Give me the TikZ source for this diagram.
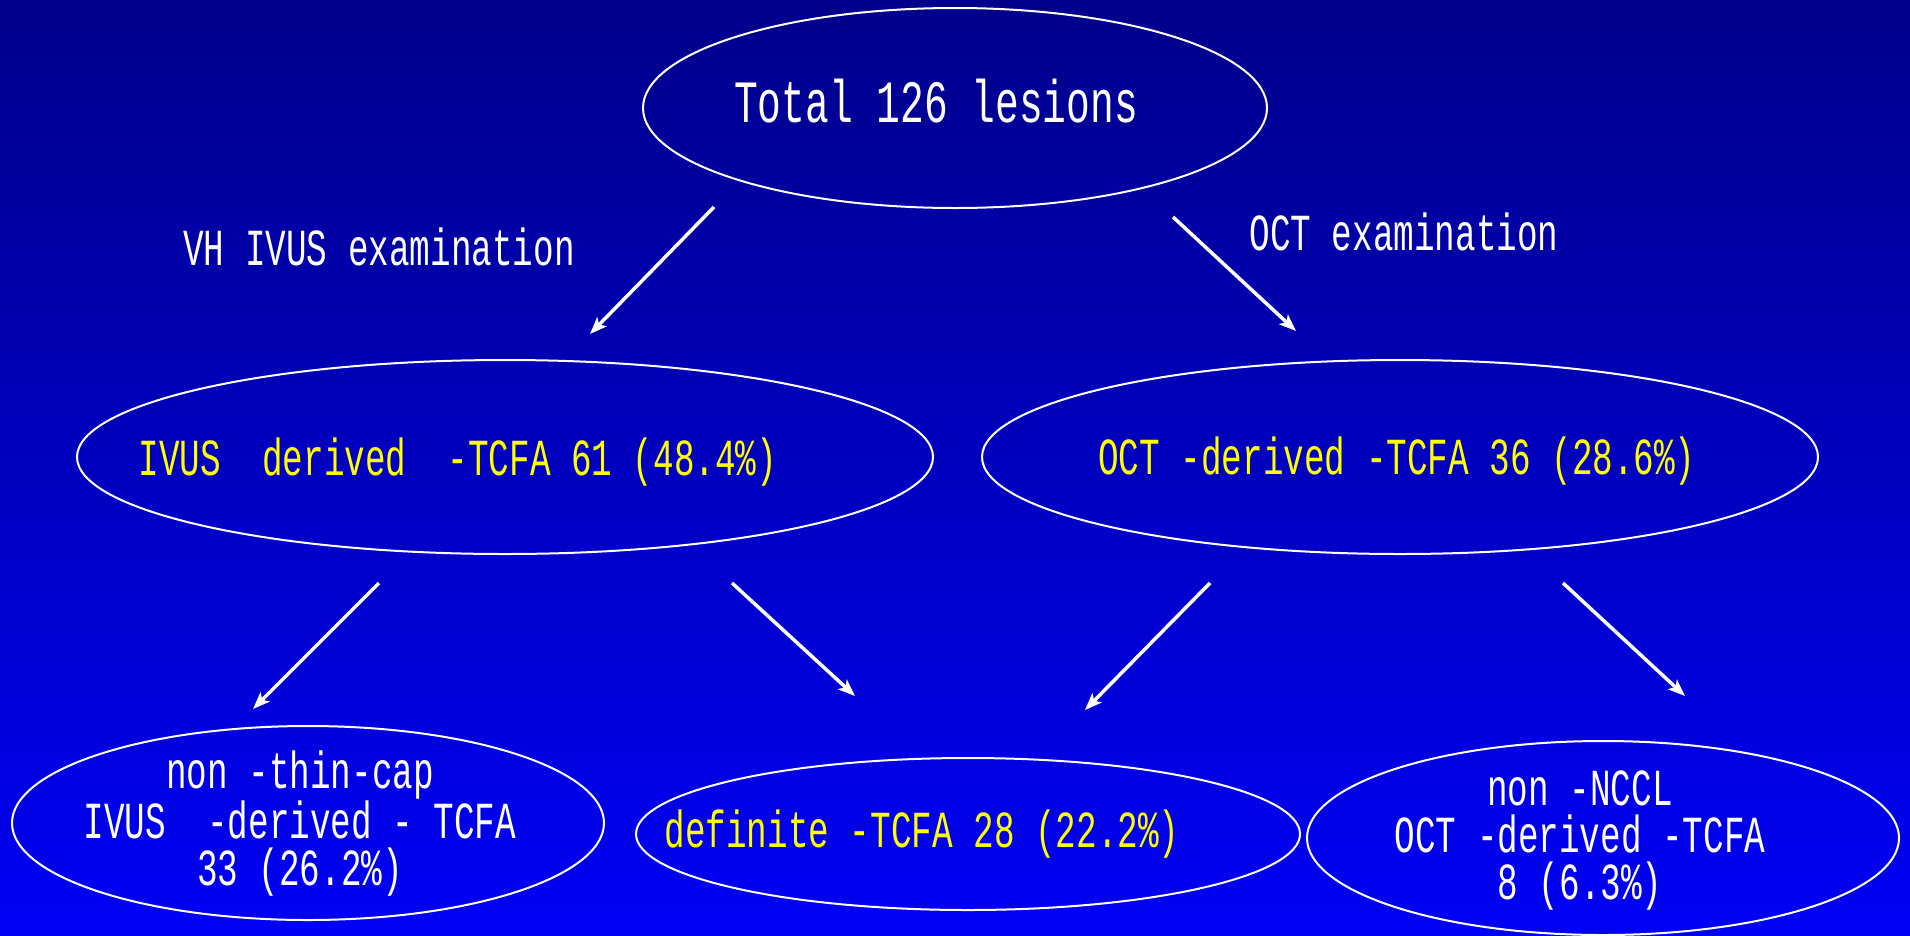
\documentclass[tikz,border=0pt]{standalone}
\usepackage{fontspec}
\usetikzlibrary{shapes.geometric,arrows.meta}
\newfontfamily\monoc[FakeStretch=0.66]{Liberation Mono}
\definecolor{bgtop}{RGB}{0,0,138}
\definecolor{bgbot}{RGB}{0,0,245}
\definecolor{ylw}{RGB}{255,255,0}
\begin{document}
\begin{tikzpicture}[x=1pt,y=-1pt,
  oval/.style={ellipse,draw=white,line width=2pt,inner sep=0pt},
  txt/.style={anchor=base,inner sep=0pt,font=\monoc\fontsize{52}{47}\selectfont},
  arr/.style={draw=white,line width=3.5pt,-{Stealth[length=17pt,width=13pt,inset=4pt]}}]
\shade[top color=bgtop,bottom color=bgbot] (0,0) rectangle (1910,935);
\useasboundingbox (0,0) rectangle (1910,935);
% ellipses
\node[oval,minimum width=624pt,minimum height=200pt] (top) at (955,108) {};
\node[oval,minimum width=856pt,minimum height=194pt] (ivus) at (505,457) {};
\node[oval,minimum width=836pt,minimum height=194pt] (oct) at (1400,457) {};
\node[oval,minimum width=592pt,minimum height=194pt] (thin) at (308,823) {};
\node[oval,minimum width=664pt,minimum height=152pt] (def) at (968,834) {};
\node[oval,minimum width=592pt,minimum height=194pt] (nccl) at (1603,838) {};
% texts
\node[txt,text=white,font=\monoc\fontsize{60}{50}\selectfont] (ttop) at (936,122) {Total 126 lesions};
\node[txt,text=white] (lvh) at (379,265) {VH IVUS examination};
\node[txt,text=white] (loct) at (1404,250) {OCT examination};
\node[txt,text=ylw] (tivus) at (458,475) {IVUS\ \ derived\ \ -TCFA 61 (48.4\%)};
\node[txt,text=ylw] (toct) at (1397,474) {OCT -derived -TCFA 36 (28.6\%)};
\node[txt,text=ylw] (tdef) at (922,847) {definite -TCFA 28 (22.2\%)};
\node[txt,text=white,align=center] (tthin) at (300,885) {non -thin-cap\\IVUS\ \ -derived - TCFA\\33 (26.2\%)};
\node[txt,text=white,align=center] (tnccl) at (1580,899) {non -NCCL\\OCT -derived -TCFA\\8 (6.3\%)};
% arrow end points
\coordinate (a1s) at (714,207); \coordinate (a1e) at (590,334);
\coordinate (a2s) at (1173,217); \coordinate (a2e) at (1296,331);
\coordinate (a3s) at (379,583); \coordinate (a3e) at (253,709);
\coordinate (a4s) at (732,583); \coordinate (a4e) at (855,696);
\coordinate (a5s) at (1210,583); \coordinate (a5e) at (1085,710);
\coordinate (a6s) at (1563,583); \coordinate (a6e) at (1685,696);
\draw[arr] (a1s) -- (a1e);
\draw[arr] (a2s) -- (a2e);
\draw[arr] (a3s) -- (a3e);
\draw[arr] (a4s) -- (a4e);
\draw[arr] (a5s) -- (a5e);
\draw[arr] (a6s) -- (a6e);
\end{tikzpicture}
\end{document}
